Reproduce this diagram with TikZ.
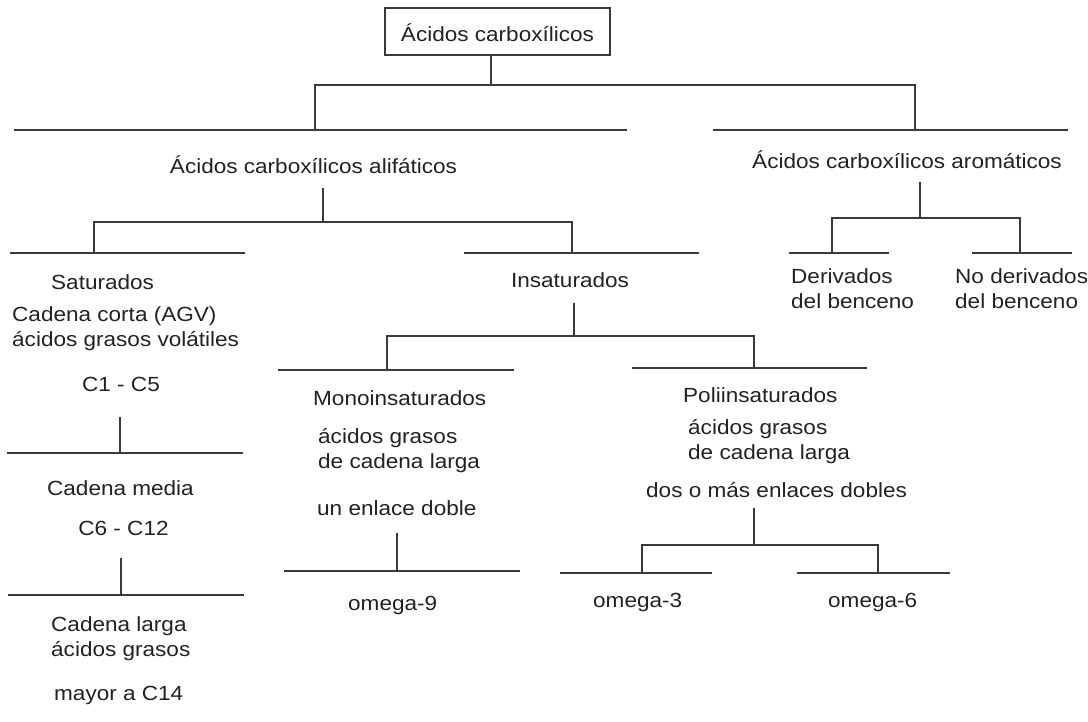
\documentclass[tikz,border=0pt]{standalone}
\usepackage{fontspec}
\setmainfont{Liberation Sans}[FakeStretch=1.1]
\definecolor{lc}{HTML}{3A3A3A}
\definecolor{tc}{HTML}{222222}
\begin{document}
\begin{tikzpicture}[x=1pt,y=-1pt,
  ln/.style={line width=1.3pt, draw=lc},
  lbl/.style={inner sep=0pt, text=tc, font=\fontsize{20.5}{25}\selectfont},
  lft/.style={lbl, anchor=base west, align=left},
  ctr/.style={lbl, anchor=base, align=center}]
\useasboundingbox[fill=white] (0,0) rectangle (1088,721);

% root
\node[lbl, draw=lc, line width=1.3pt, minimum width=225pt, minimum height=47pt,
      text height=24pt, text depth=4pt] (root) at (497.5,31.5) {Ácidos carboxílicos};

% level 1 texts
\node[ctr] (alif) at (313.5,173) {Ácidos carboxílicos alifáticos};
\node[ctr] (arom) at (907,168) {Ácidos carboxílicos aromáticos};

% aromatic children (base = last line)
\node[lft] (deriv) at (791,308) {Derivados\\del benceno};
\node[lft] (noderiv) at (955,308) {No derivados\\del benceno};

% saturated column
\node[lft] (sat) at (51,289) {Saturados};
\node[lft] (corta) at (12,346) {Cadena corta (AGV)\\ácidos grasos volátiles};
\node[ctr] (c1c5) at (121,391) {C1 - C5};
\node[ctr] (media) at (120.5,495) {Cadena media};
\node[ctr] (c6c12) at (123.5,535) {C6 - C12};
\node[lft] (larga) at (51,656) {Cadena larga\\ácidos grasos};
\node[lft] (mayor) at (54,700) {mayor a C14};

% unsaturated
\node[ctr] (insat) at (570,287) {Insaturados};
\node[lft] (mono) at (313,405) {Monoinsaturados};
\node[lft] (monoag) at (318,468) {ácidos grasos\\de cadena larga};
\node[lft] (monoen) at (317,515) {un enlace doble};
\node[lft] (om9) at (348,610) {omega-9};
\node[lft] (poli) at (683,402) {Poliinsaturados};
\node[lft] (poliag) at (688,459) {ácidos grasos\\de cadena larga};
\node[lft] (polien) at (646,497) {dos o más enlaces dobles};
\node[lft] (om3) at (593,607) {omega-3};
\node[lft] (om6) at (828,607) {omega-6};

% ---- connectors ----
% root
\coordinate (j0) at (491,85);
\coordinate (a1) at (315,130);
\coordinate (a2) at (915,130);
\draw[ln] (root.south -| j0) -- (j0);
\draw[ln] (a1) |- (j0) -| (a2);
\draw[ln] (14,130) -- (627,130);
\draw[ln] (713,130) -- (1068,130);

% aliphatic
\coordinate (s1) at (323,188);
\coordinate (j1) at (323,222);
\coordinate (b1) at (94,253);
\coordinate (b2) at (572,253);
\draw[ln] (s1) -- (j1);
\draw[ln] (b1) |- (j1) -| (b2);
\draw[ln] (10,253) -- (245,253);
\draw[ln] (464,253) -- (699,253);

% aromatic
\coordinate (s2) at (920,182);
\coordinate (j2) at (920,218);
\coordinate (b3) at (832,253);
\coordinate (b4) at (1020,253);
\draw[ln] (s2) -- (j2);
\draw[ln] (b3) |- (j2) -| (b4);
\draw[ln] (789,253) -- (889,253);
\draw[ln] (972,253) -- (1072,253);

% saturated chain
\coordinate (s3) at (120,417);
\coordinate (e3) at (120,453);
\draw[ln] (s3) -- (e3);
\draw[ln] (7,453) -- (243,453);
\coordinate (s4) at (121,558);
\coordinate (e4) at (121,595);
\draw[ln] (s4) -- (e4);
\draw[ln] (8,595) -- (244,595);

% unsaturated
\coordinate (s5) at (574,303);
\coordinate (j5) at (574,336);
\coordinate (b5) at (387,370);
\coordinate (b6) at (754,368);
\draw[ln] (s5) -- (j5);
\draw[ln] (b5) |- (j5) -| (b6);
\draw[ln] (278,370) -- (514,370);
\draw[ln] (632,368) -- (867,368);

% mono
\coordinate (s6) at (397,533);
\coordinate (e6) at (397,571);
\draw[ln] (s6) -- (e6);
\draw[ln] (284,571) -- (520,571);

% poli
\coordinate (s7) at (754,508);
\coordinate (j7) at (754,545);
\coordinate (b7) at (642,573);
\coordinate (b8) at (878,573);
\draw[ln] (s7) -- (j7);
\draw[ln] (b7) |- (j7) -| (b8);
\draw[ln] (560,573) -- (712,573);
\draw[ln] (797,573) -- (950,573);
\end{tikzpicture}
\end{document}
